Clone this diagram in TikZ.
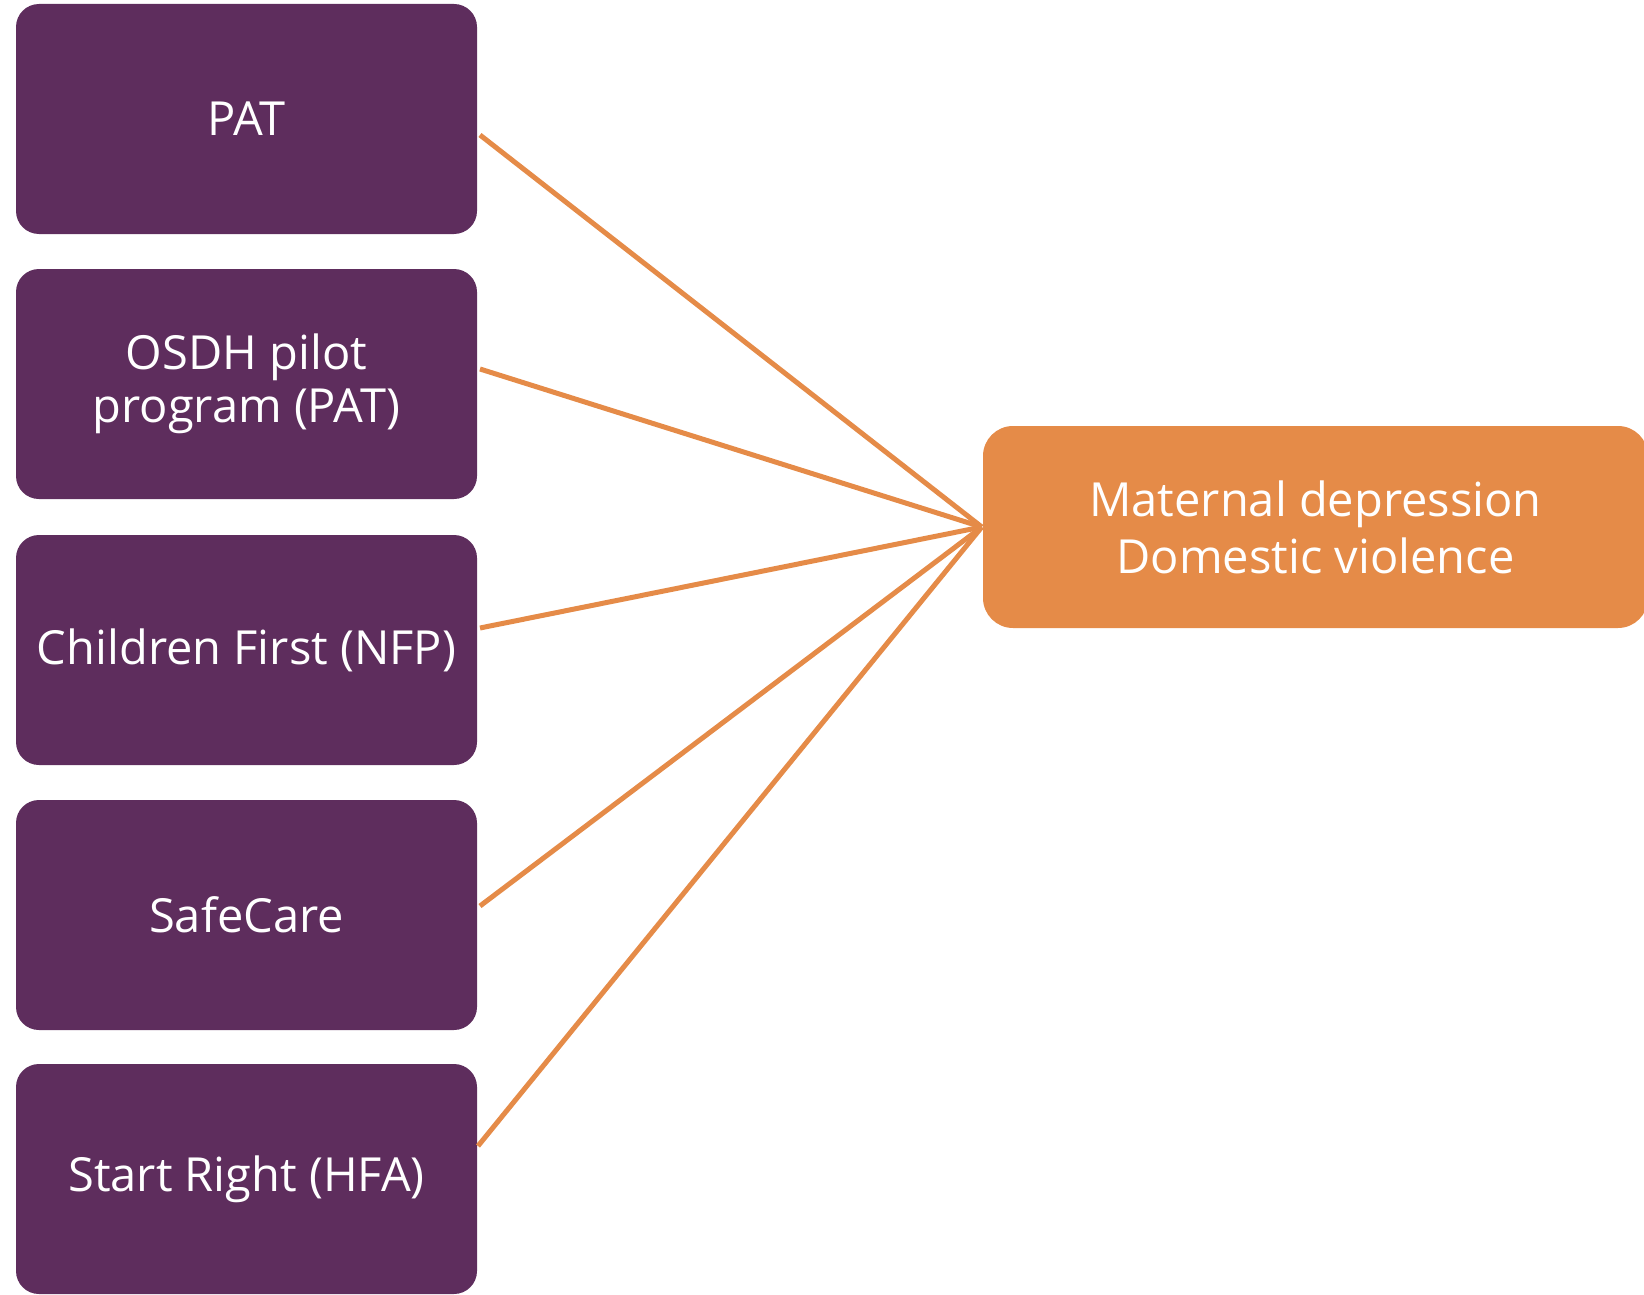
\documentclass[tikz,border=0pt]{standalone}
\usepackage{fontspec}
\setmainfont{Open Sans}
\usetikzlibrary{calc}
\definecolor{purp}{RGB}{94,45,93}
\definecolor{orng}{RGB}{229,139,72}
\begin{document}
\begin{tikzpicture}[x=1pt,y=-1pt,
  pbox/.style={draw=none,fill=purp,rounded corners=23pt,minimum width=461pt,minimum height=230pt,text=white,align=center,inner sep=0pt,font=\fontsize{47}{53}\selectfont},
  obox/.style={draw=none,fill=orng,rounded corners=30pt,minimum width=665pt,minimum height=202pt,text=white,align=center,inner sep=0pt,font=\fontsize{47}{57}\selectfont},
  link/.style={draw=orng,line width=5pt}]
\useasboundingbox (0,0) rectangle (1644,1295);
\node[pbox] (b1) at (246.5,119) {PAT};
\node[pbox] (b2) at (246.5,384) {OSDH pilot\\program (PAT)};
\node[pbox] (b3) at (246.5,650) {Children First (NFP)};
\node[pbox] (b4) at (246.5,915) {SafeCare};
\node[pbox] (b5) at (246.5,1179) {Start Right (HFA)};
\node[obox] (m) at (1315.5,527) {Maternal depression\\Domestic violence};
\coordinate (s1) at (480,135);
\coordinate (s2) at (480,369);
\coordinate (s3) at (480,628);
\coordinate (s4) at (480,906);
\coordinate (s5) at (478,1146);
\coordinate (e) at ($(m.west)+(-1,0)$);
\draw[link] (s1) -- (e);
\draw[link] (s2) -- (e);
\draw[link] (s3) -- (e);
\draw[link] (s4) -- (e);
\draw[link] (s5) -- (e);
\end{tikzpicture}
\end{document}
